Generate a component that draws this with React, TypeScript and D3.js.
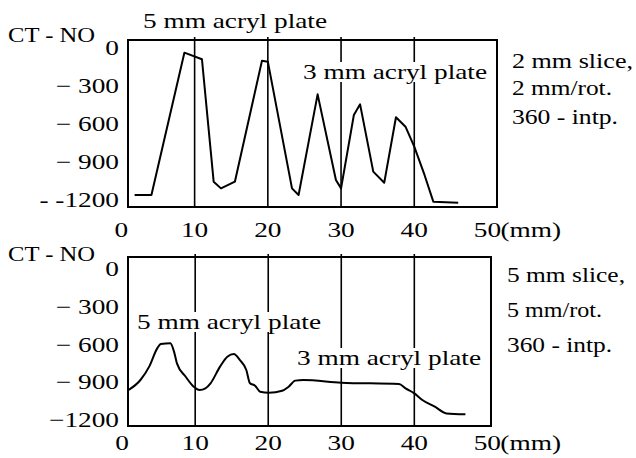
import React, { useEffect, useRef } from "react";
import * as d3 from "d3";

// CT number profiles across acryl plates
const xTicks = [0, 10, 20, 30, 40, 50];
const yTicks = [0, -300, -600, -900, -1200];
const topYLabels = ["0", "− 300", "− 600", "− 900", "- -1200"];
const botYLabels = ["0", "− 300", "− 600", "− 900", "−1200"];

// 2 mm slice
const topX = [1.8, 4.1, 8.6, 11.0, 12.6, 13.6, 15.5, 19.2, 20.0, 23.3, 24.2, 26.8, 29.3, 30.0, 31.75, 32.6, 34.4, 35.9, 37.5, 38.8, 40.0, 41.4, 42.6, 46.0];
const topY = [-1160, -1160, -37, -89, -1055, -1108, -1055, -100, -108, -1108, -1160, -366, -1042, -1108, -529, -445, -976, -1063, -547, -621, -779, -1002, -1213, -1221];

// 5 mm slice
const botX = [0.9, 2.5, 3.7, 4.8, 5.3, 6.6, 7.1, 7.5, 8.7, 9.8, 10.6, 11.4, 12.1, 13.4, 14.4, 15.3, 16.1, 17.0, 17.5, 18.2, 18.9, 20.1, 21.9, 22.8, 23.7, 24.8, 30.0, 37.9, 38.8, 40.0, 41.1, 42.8, 44.4, 47.0];
const botY = [-960, -881, -775, -630, -595, -590, -656, -749, -855, -934, -960, -947, -907, -775, -696, -675, -722, -802, -907, -926, -974, -982, -966, -934, -886, -881, -902, -913, -947, -987, -1040, -1093, -1146, -1153];

const FONT = "Liberation Serif, serif";
const STRETCH = 1.3;

function drawPanel(svg, o) {
	const x = d3.scaleLinear().domain(o.xDomain).range([128, o.right]);
	const y = d3.scaleLinear().domain(o.yDomain).range([o.bottom, o.top]);
	const g = svg.append("g");

	// grid lines
	g.selectAll(".grid")
		.data(xTicks.slice(1, -1))
		.join("line")
		.attr("x1", (d) => x(d))
		.attr("x2", (d) => x(d))
		.attr("y1", o.top - 3)
		.attr("y2", o.bottom)
		.attr("stroke", "black")
		.attr("stroke-width", 1.6);

	// frame
	g.append("rect")
		.attr("x", 128)
		.attr("y", o.top)
		.attr("width", o.right - 128)
		.attr("height", o.bottom - o.top)
		.attr("fill", "none")
		.attr("stroke", "black")
		.attr("stroke-width", 2);

	const line = d3
		.line()
		.x((d) => x(d[0]))
		.y((d) => y(d[1]))
		.curve(o.curve);

	g.append("path")
		.datum(o.xs.map((v, i) => [v, o.ys[i]]))
		.attr("d", line)
		.attr("fill", "none")
		.attr("stroke", "black")
		.attr("stroke-width", 2)
		.attr("stroke-linejoin", "round");

	const text = (s, tx, ty, anchor = "start", bg = false, w = null) => {
		const t = g
			.append("text")
			.text(s)
			.attr("x", tx)
			.attr("y", ty)
			.attr("text-anchor", anchor)
			.attr("font-family", FONT)
			.attr("font-size", 21)
			.attr("fill", "black");
		const len = w || t.node().getComputedTextLength() * STRETCH;
		t.attr("textLength", len).attr("lengthAdjust", "spacingAndGlyphs");
		if (bg) {
			const b = t.node().getBBox();
			g.insert("rect", () => t.node())
				.attr("x", b.x - 2)
				.attr("y", b.y + 2)
				.attr("width", b.width + 4)
				.attr("height", b.height - 4)
				.attr("fill", "white");
		}
		return t;
	};

	// y tick labels
	yTicks.forEach((v, i) => text(o.yLabels[i], 119, y(v) + 7, "end"));
	// x tick labels
	xTicks.forEach((v) => text(String(v), x(v), o.xLabelY, "middle"));
	text(o.mmLabel, x(50) + 13, o.xLabelY, "start");

	text("CT - NO", 8, o.ctY, "start", false, 87);
	o.labels.forEach((l) => text(l.s, l.x, l.y, "start", l.bg, 184));
	o.notes.forEach((s, i) => text(s, o.noteX, o.noteY[i], "start", false, o.noteW[i]));
}

export default function App() {
	const ref = useRef(null);

	useEffect(() => {
		const svg = d3.select(ref.current);
		svg.selectAll("*").remove();

		drawPanel(svg, {
			top: 40,
			bottom: 207,
			right: 497,
			xDomain: [0.9, 51.3],
			yDomain: [-1255, 63],
			xs: topX,
			ys: topY,
			curve: d3.curveLinear,
			yLabels: topYLabels,
			xLabelY: 237,
			mmLabel: "(mm)",
			ctY: 42,
			labels: [
				{ s: "5 mm acryl plate", x: 143, y: 28, bg: false },
				{ s: "3 mm acryl plate", x: 303, y: 79, bg: true },
			],
			noteX: 512,
			noteY: [68, 95, 124],
			noteW: [121, 100, 106],
			notes: ["2 mm slice,", "2 mm/rot.", "360 - intp."],
		});

		drawPanel(svg, {
			top: 257,
			bottom: 426,
			right: 491,
			xDomain: [0.8, 50.5],
			yDomain: [-1246, 95],
			xs: botX,
			ys: botY,
			curve: d3.curveMonotoneX,
			yLabels: botYLabels,
			xLabelY: 450,
			mmLabel: " (mm)",
			ctY: 261,
			labels: [
				{ s: "5 mm acryl plate", x: 137, y: 329, bg: true },
				{ s: "3 mm acryl plate", x: 297, y: 365, bg: true },
			],
			noteX: 507,
			noteY: [282, 317, 352],
			noteW: [118, 95, 105],
			notes: ["5 mm slice,", "5 mm/rot.", "360 - intp."],
		});
	}, []);

	return (
		<svg
			ref={ref}
			width={636}
			height={458}
			style={{ position: "absolute", left: 0, top: 0, background: "white" }}
		/>
	);
}
